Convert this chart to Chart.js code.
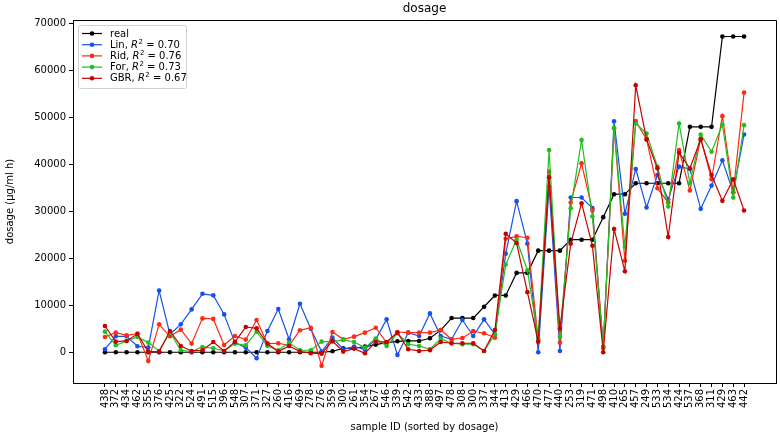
<!DOCTYPE html>
<html>
<head>
<meta charset="utf-8">
<script src="https://cdn.jsdelivr.net/npm/chart.js@4.4.1/dist/chart.umd.min.js"></script>
<style>
  html, body { margin: 0; padding: 0; background: #fff; }
</style>
</head>
<body>
<canvas id="js-chart-dosage" width="780" height="434"></canvas>
<script>
// Sample IDs on the x axis (sorted by real dosage)
const sampleIds = [
  '438', '372', '434', '462', '355', '376', '425', '322', '524', '491',
  '515', '396', '548', '307', '371', '327', '260', '416', '469', '278',
  '276', '359', '300', '261', '354', '267', '546', '339', '542', '433',
  '388', '497', '478', '308', '300', '337', '344', '413', '429', '466',
  '470', '477', '440', '253', '319', '471', '498', '410', '265', '457',
  '249', '533', '534', '424', '537', '368', '311', '429', '463', '442'
];

// Series values (dosage, ug/ml h)
const real = [
  0, 0, 0, 0, 0, 0, 0, 0, 0, 0,
  0, 0, 0, 0, 0, 0, 0, 0, 0, 0,
  0, 200, 850, 850, 1200, 1630, 2050, 2330, 2400, 2400,
  2970, 4700, 7280, 7280, 7280, 9690, 12090, 12090, 16900, 16900,
  21630, 21630, 21630, 23970, 23970, 23970, 28770, 33650, 33650, 35990,
  35990, 35990, 35990, 35990, 48000, 48000, 48000, 67240, 67240, 67240
];
const lin = [
  640, 3390, 3390, 1270, 990, 13150, 3820, 5940, 9120, 12440,
  12120, 8060, 2050, 990, -1270, 4520, 9190, 2760, 10320, 5000,
  150, 3110, 640, 1200, 640, 2760, 7000, -570, 4170, 3460,
  8270, 3460, 2760, 6860, 3460, 7000, 3820, 21000, 32170, 23120,
  0, 35280, 280, 32950, 32950, 30680, 900, 49200, 29480, 39030,
  30820, 37750, 32590, 39520, 39030, 30540, 35490, 40870, 34080, 46380
];
const rid = [
  3250, 4170, 3610, 3960, -1840, 5940, 3390, 4810, 1840, 7210,
  7100, 1550, 3460, 2690, 6860, 1840, 1910, 1480, 4670, 5230,
  -2900, 4310, 2760, 3320, 4170, 5230, 2050, 4310, 4170, 4170,
  4170, 4740, 2760, 3040, 4520, 4030, 3110, 24180, 24680, 24390,
  2620, 38460, 2050, 31890, 40230, 30190, 1000, 47700, 19500, 49210,
  45320, 34930, 31890, 43060, 34440, 45530, 36830, 50270, 34010, 55290
];
const forest = [
  4380, 1480, 2400, 3250, 2050, 280, 4200, 420, 150, 1130,
  850, 280, 1840, 1480, 4380, 1340, 420, 2050, 420, 420,
  2260, 2260, 2620, 2190, 990, 2900, 1340, 4030, 1700, 1340,
  640, 2900, 1910, 1700, 1700, 280, 3820, 18660, 23970, 17460,
  2900, 43060, 3320, 30680, 45180, 28920, 1200, 47790, 22500, 48710,
  46590, 39520, 31040, 48710, 35990, 46380, 42700, 48500, 32950, 48360
];
const gbr = [
  5590, 2260, 2400, 3890, 150, 150, 4520, 1340, 280, 420,
  2190, 280, 2200, 5370, 5090, 1840, 150, 1340, 150, -200,
  -300, 2400, 140, 780, -200, 2190, 2190, 4170, 640, 280,
  420, 2190, 1910, 1910, 1910, 280, 4740, 25240, 23260, 12800,
  2260, 37260, 5020, 23120, 31740, 22690, 0, 26230, 17250, 56840,
  45320, 39170, 24530, 42490, 39170, 45320, 37750, 32240, 36830, 30190
];

// Legend names and R^2 scores (null = no score shown)
const seriesNames = ['real', 'Lin', 'Rid', 'For', 'GBR'];
const seriesR2 = [null, '0.70', '0.76', '0.73', '0.67'];
const yTicks = [0, 10000, 20000, 30000, 40000, 50000, 60000, 70000];
const chartTitle = 'dosage';

const FONT = 'DejaVu Sans';

// turn a value array into {x, y} points on the index axis
function toPoints(values) {
  return values.map((v, i) => ({x: i, y: v}));
}

function lineSet(i, values, color, order) {
  return {
    label: seriesR2[i] === null ? seriesNames[i] : seriesNames[i] + ', R\u00b2 = ' + seriesR2[i],
    data: toPoints(values),
    borderColor: color,
    backgroundColor: color,
    pointBackgroundColor: color,
    pointBorderWidth: 0,
    pointRadius: 2.3,
    borderWidth: 1.2,
    tension: 0,
    order: order
  };
}

// Title centred over the plot area
const titlePlugin = {
  id: 'axesTitle',
  afterDraw(chart) {
    const {ctx, chartArea} = chart;
    ctx.save();
    ctx.fillStyle = '#000';
    ctx.font = '12px "' + FONT + '"';
    ctx.textAlign = 'center';
    ctx.textBaseline = 'middle';
    ctx.fillText(chartTitle, (chartArea.left + chartArea.right) / 2, 9);
    ctx.restore();
  }
};

// Top and right spines
const framePlugin = {
  id: 'frame',
  afterDraw(chart) {
    const {ctx, chartArea} = chart;
    ctx.save();
    ctx.strokeStyle = '#000';
    ctx.lineWidth = 1;
    ctx.beginPath();
    ctx.moveTo(chartArea.left, chartArea.top + 0.5);
    ctx.lineTo(chartArea.right + 0.5, chartArea.top + 0.5);
    ctx.lineTo(chartArea.right + 0.5, chartArea.bottom);
    ctx.stroke();
    ctx.restore();
  }
};

// write "Name, R^2 = x" with an italic R and a raised 2
function drawLegendText(ctx, i, x, y) {
  const plain = '10px "' + FONT + '"';
  ctx.font = plain;
  if (seriesR2[i] === null) {
    ctx.fillText(seriesNames[i], x, y);
    return;
  }
  let cx = x;
  const head = seriesNames[i] + ', ';
  ctx.fillText(head, cx, y);
  cx += ctx.measureText(head).width;
  ctx.font = 'italic 10px "' + FONT + '"';
  ctx.fillText('R', cx, y);
  cx += ctx.measureText('R').width;
  ctx.font = '7px "' + FONT + '"';
  ctx.fillText('2', cx + 0.5, y - 3.5);
  cx += ctx.measureText('2').width + 0.5;
  ctx.font = plain;
  const tail = ' = ' + seriesR2[i];
  ctx.fillText(tail, cx, y);
}

// Legend box in the upper left corner, matplotlib style
const legendPlugin = {
  id: 'boxLegend',
  afterDatasetsDraw(chart) {
    const {ctx, chartArea} = chart;
    const x0 = chartArea.left + 5;
    const y0 = chartArea.top + 5;
    const w = 108, h = 63, r = 2;
    ctx.save();
    ctx.beginPath();
    ctx.roundRect(x0 + 0.5, y0 + 0.5, w, h, r);
    ctx.fillStyle = 'rgba(255,255,255,0.8)';
    ctx.fill();
    ctx.strokeStyle = '#d0d0d0';
    ctx.lineWidth = 1;
    ctx.stroke();

    ctx.textBaseline = 'middle';
    ctx.textAlign = 'left';
    chart.data.datasets.forEach((ds, i) => {
      const y = y0 + 8.5 + i * 11.2;
      ctx.strokeStyle = ds.borderColor;
      ctx.lineWidth = ds.borderWidth;
      ctx.beginPath();
      ctx.moveTo(x0 + 4, y);
      ctx.lineTo(x0 + 24, y);
      ctx.stroke();
      ctx.fillStyle = ds.borderColor;
      ctx.beginPath();
      ctx.arc(x0 + 14, y, ds.pointRadius, 0, Math.PI * 2);
      ctx.fill();
      ctx.fillStyle = '#000';
      drawLegendText(ctx, i, x0 + 32, y + 0.5);
    });
    ctx.restore();
  }
};

// Chart container
let chartDosageCon = document.getElementById('js-chart-dosage');

let chartDosageData = {
  datasets: [
    lineSet(0, real, '#000000', 5),
    lineSet(1, lin, '#1550f0', 4),
    lineSet(2, rid, '#ff2a14', 3),
    lineSet(3, forest, '#20c020', 2),
    lineSet(4, gbr, '#c80000', 1)
  ]
};

let chartDosageOptions = {
  responsive: false,
  animation: false,
  devicePixelRatio: 1,
  layout: {
    padding: {top: 20, right: 2, left: 0, bottom: 0}
  },
  scales: {
    x: {
      type: 'linear',
      min: -2.95,
      max: 61.95,
      afterBuildTicks: function (scale) {
        scale.ticks = sampleIds.map((_, i) => ({value: i}));
      },
      afterFit: function (scale) {
        scale.height = 51;
      },
      ticks: {
        autoSkip: false,
        minRotation: 90,
        maxRotation: 90,
        padding: 2,
        color: '#000',
        font: {family: FONT, size: 10},
        callback: function (value) {
          return sampleIds[value] !== undefined ? sampleIds[value] : '';
        }
      },
      grid: {
        drawOnChartArea: false,
        drawTicks: true,
        tickLength: 4,
        color: '#000'
      },
      border: {display: true, color: '#000', width: 1},
      title: {
        display: true,
        text: 'sample ID (sorted by dosage)',
        color: '#000',
        font: {family: FONT, size: 10},
        padding: {top: 0, bottom: 1}
      }
    },
    y: {
      type: 'linear',
      min: -6550,
      max: 70750,
      afterBuildTicks: function (scale) {
        scale.ticks = yTicks.map(v => ({value: v}));
      },
      afterFit: function (scale) {
        scale.width = 73;
      },
      ticks: {
        padding: 3,
        color: '#000',
        font: {family: FONT, size: 10},
        callback: function (value) {
          return String(value);
        }
      },
      grid: {
        drawOnChartArea: false,
        drawTicks: true,
        tickLength: 4,
        color: '#000'
      },
      border: {display: true, color: '#000', width: 1},
      title: {
        display: true,
        text: 'dosage (\u03bcg/ml h)',
        color: '#000',
        font: {family: FONT, size: 10},
        padding: {top: 4, bottom: 0}
      }
    }
  },
  plugins: {
    legend: {display: false},
    title: {display: false},
    tooltip: {enabled: false}
  }
};

// Init chart
if (chartDosageCon !== null) {
  new Chart(chartDosageCon, {
    type: 'line',
    data: chartDosageData,
    options: chartDosageOptions,
    plugins: [legendPlugin, framePlugin, titlePlugin]
  });
}
</script>
</body>
</html>
